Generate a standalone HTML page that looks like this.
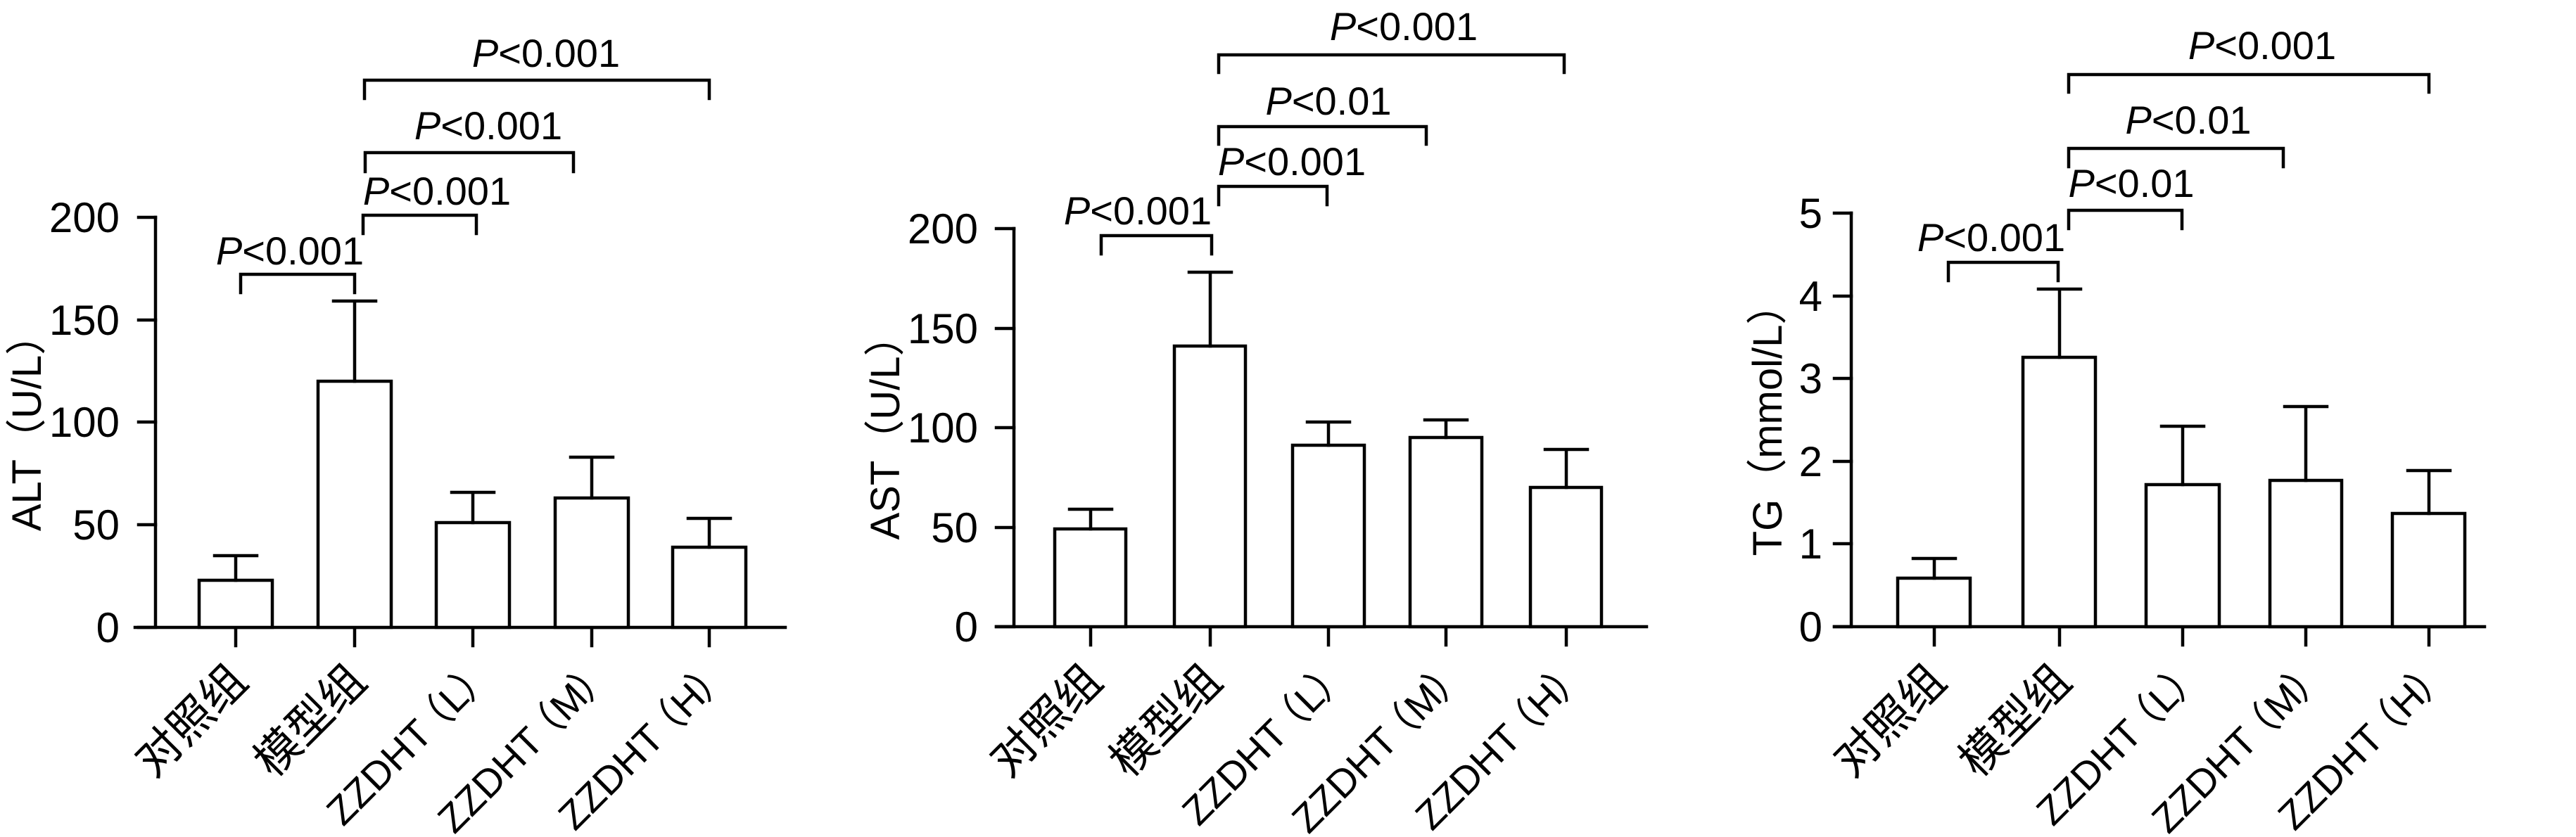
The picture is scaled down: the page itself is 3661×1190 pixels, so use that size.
<!DOCTYPE html>
<html><head><meta charset="utf-8"><style>
html,body{margin:0;padding:0;background:#fff;overflow:hidden;}
svg{display:block;}
text{font-family:"Liberation Sans","Noto Sans CJK SC",sans-serif;fill:#000;}
.t{font-size:60px;}
.p{font-size:56px;}
.x{font-size:64px;}
.z{font-size:56px;}
.y{font-size:58px;}
</style></head><body>
<svg width="3661" height="1190" viewBox="0 0 3661 1190" xmlns="http://www.w3.org/2000/svg">
<g stroke="#000" stroke-width="4.5" fill="none" stroke-linecap="square">
<path d="M221 309V892M192 892H1116"/>
<path d="M197 309H221M197 455H221M197 600H221M197 746H221M197 892H221"/>
<path d="M335 892V918M504 892V918M672 892V918M841 892V918M1008 892V918"/>
<rect x="283" y="825" width="104" height="67" fill="#fff"/>
<rect x="452" y="542" width="104" height="350" fill="#fff"/>
<rect x="620" y="743" width="104" height="149" fill="#fff"/>
<rect x="789" y="708" width="104" height="184" fill="#fff"/>
<rect x="956" y="778" width="104" height="114" fill="#fff"/>
<path d="M335 825V790M305 790H365M504 542V428M474 428H534M672 743V700M642 700H702M841 708V650M811 650H871M1008 778V737M978 737H1038"/>
<path d="M342 416V390H504V416M516 332V306H677V332M519 244V217H815V244M518 140V114H1008V140"/>
<path d="M1441 325V891M1416 891H2340"/>
<path d="M1416 325H1441M1416 467H1441M1416 608H1441M1416 750H1441M1416 891H1441"/>
<path d="M1550 891V917M1720 891V917M1888 891V917M2055 891V917M2226 891V917"/>
<rect x="1499" y="752" width="101" height="139" fill="#fff"/>
<rect x="1669" y="492" width="101" height="399" fill="#fff"/>
<rect x="1837" y="633" width="102" height="258" fill="#fff"/>
<rect x="2004" y="622" width="102" height="269" fill="#fff"/>
<rect x="2175" y="693" width="101" height="198" fill="#fff"/>
<path d="M1550 752V724M1520 724H1580M1720 492V387M1690 387H1750M1888 633V600M1858 600H1918M2055 622V597M2025 597H2085M2226 693V639M2196 639H2256"/>
<path d="M1565 361V335H1722V361M1732 291V265H1886V291M1732 205V180H2027V205M1732 103V78H2223V103"/>
<path d="M2631 303V891M2607 891H3531"/>
<path d="M2607 303H2631M2607 421H2631M2607 538H2631M2607 656H2631M2607 773H2631M2607 891H2631"/>
<path d="M2749 891V917M2927 891V917M3102 891V917M3277 891V917M3452 891V917"/>
<rect x="2697" y="822" width="103" height="69" fill="#fff"/>
<rect x="2875" y="508" width="103" height="383" fill="#fff"/>
<rect x="3050" y="689" width="104" height="202" fill="#fff"/>
<rect x="3226" y="683" width="102" height="208" fill="#fff"/>
<rect x="3400" y="730" width="103" height="161" fill="#fff"/>
<path d="M2749 822V794M2719 794H2779M2927 508V411M2897 411H2957M3102 689V606M3072 606H3132M3277 683V578M3247 578H3307M3452 730V669M3422 669H3482"/>
<path d="M2769 399V373H2925V399M2940 325V299H3101V325M2940 237V211H3245V237M2940 131V106H3452V131"/>
</g>
<g class="t" text-anchor="end">
<text x="170" y="330">200</text><text x="170" y="476">150</text><text x="170" y="621">100</text><text x="170" y="767">50</text><text x="170" y="913">0</text>
<text x="1390" y="346">200</text><text x="1390" y="488">150</text><text x="1390" y="629">100</text><text x="1390" y="771">50</text><text x="1390" y="912">0</text>
<text x="2590" y="324">5</text><text x="2590" y="442">4</text><text x="2590" y="559">3</text><text x="2590" y="677">2</text><text x="2590" y="794">1</text><text x="2590" y="912">0</text>
</g>
<g class="p" text-anchor="middle">
<text x="412" y="376"><tspan font-style="italic">P</tspan>&lt;0.001</text>
<text x="621" y="291"><tspan font-style="italic">P</tspan>&lt;0.001</text>
<text x="694" y="198"><tspan font-style="italic">P</tspan>&lt;0.001</text>
<text x="776" y="95"><tspan font-style="italic">P</tspan>&lt;0.001</text>
<text x="1617" y="319"><tspan font-style="italic">P</tspan>&lt;0.001</text>
<text x="1836" y="249"><tspan font-style="italic">P</tspan>&lt;0.001</text>
<text x="1888" y="163"><tspan font-style="italic">P</tspan>&lt;0.01</text>
<text x="1995" y="57"><tspan font-style="italic">P</tspan>&lt;0.001</text>
<text x="2830" y="357"><tspan font-style="italic">P</tspan>&lt;0.001</text>
<text x="3029" y="280"><tspan font-style="italic">P</tspan>&lt;0.01</text>
<text x="3110" y="190"><tspan font-style="italic">P</tspan>&lt;0.01</text>
<text x="3215" y="84"><tspan font-style="italic">P</tspan>&lt;0.001</text>
</g>
<g class="y" text-anchor="middle">
<text transform="translate(58,601) rotate(-90)">ALT（U/L）</text>
<text transform="translate(1278,608) rotate(-90)">AST（U/L）</text>
<text transform="translate(2532,597) rotate(-90)">TG（mmol/L）</text>
</g>
<g class="x" text-anchor="end">
<text transform="translate(355,972) rotate(-45)">对照组</text>
<text transform="translate(524,972) rotate(-45)">模型组</text>
<text transform="translate(1570,972) rotate(-45)">对照组</text>
<text transform="translate(1740,972) rotate(-45)">模型组</text>
<text transform="translate(2769,972) rotate(-45)">对照组</text>
<text transform="translate(2947,972) rotate(-45)">模型组</text>
</g>
<g class="z" text-anchor="end">
<text transform="translate(706,958) rotate(-45)">ZZDHT<tspan dx="-14">（</tspan>L<tspan dx="-4">）</tspan></text>
<text transform="translate(875,958) rotate(-45)">ZZDHT<tspan dx="-14">（</tspan>M<tspan dx="-4">）</tspan></text>
<text transform="translate(1042,958) rotate(-45)">ZZDHT<tspan dx="-14">（</tspan>H<tspan dx="-4">）</tspan></text>
<text transform="translate(1922,958) rotate(-45)">ZZDHT<tspan dx="-14">（</tspan>L<tspan dx="-4">）</tspan></text>
<text transform="translate(2089,958) rotate(-45)">ZZDHT<tspan dx="-14">（</tspan>M<tspan dx="-4">）</tspan></text>
<text transform="translate(2260,958) rotate(-45)">ZZDHT<tspan dx="-14">（</tspan>H<tspan dx="-4">）</tspan></text>
<text transform="translate(3136,958) rotate(-45)">ZZDHT<tspan dx="-14">（</tspan>L<tspan dx="-4">）</tspan></text>
<text transform="translate(3311,958) rotate(-45)">ZZDHT<tspan dx="-14">（</tspan>M<tspan dx="-4">）</tspan></text>
<text transform="translate(3486,958) rotate(-45)">ZZDHT<tspan dx="-14">（</tspan>H<tspan dx="-4">）</tspan></text>
</g>
</svg>
</body></html>
